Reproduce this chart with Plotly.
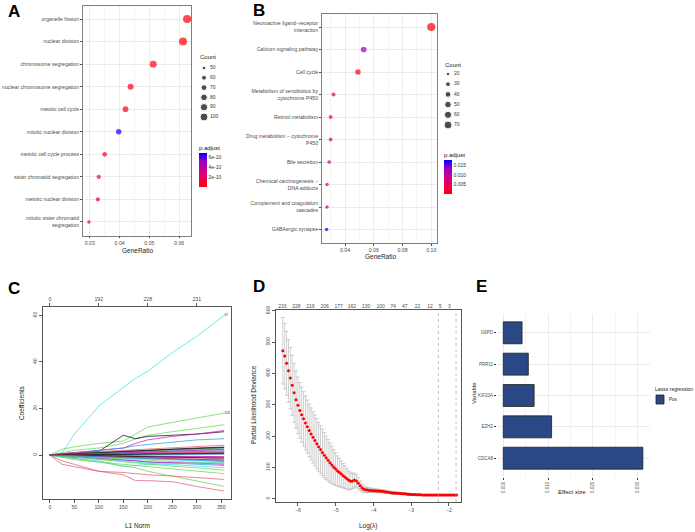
#!/usr/bin/env python3

#  Plotly Libraries
import plotly.graph_objects as go

W, H = 695, 532
FONT = 'Liberation Sans, Arial, sans-serif'

#  Panel A : GO enrichment
go_terms = [ 'organelle fission', 'nuclear division', 'chromosome segregation',
             'nuclear chromosome segregation', 'meiotic cell cycle',
             'mitotic nuclear division', 'meiotic cell cycle process',
             'sister chromatid segregation', 'meiotic nuclear division',
             'mitotic sister chromatid<br>segregation' ]
go_ratio = [ 0.0627, 0.0613, 0.0513, 0.0437, 0.0420, 0.0397, 0.0350, 0.0330, 0.0327, 0.0297 ]
go_count = [ 104, 101, 85, 72, 69, 66, 58, 55, 54, 49 ]
go_padj  = [ 1e-11, 1e-11, 3e-11, 5e-11, 5e-11, 6.7e-10, 6e-11, 1.3e-10, 8e-11, 1.8e-10 ]
go_count_breaks = [ 50, 60, 70, 80, 90, 100 ]

#  Panel B : KEGG enrichment
kegg_terms = [ 'Neuroactive ligand\u2212receptor<br>interaction', 'Calcium signaling pathway',
               'Cell cycle', 'Metabolism of xenobiotics by<br>cytochrome P450',
               'Retinol metabolism', 'Drug metabolism \u2212 cytochrome<br>P450',
               'Bile secretion', 'Chemical carcinogenesis \u2212<br>DNA adducts',
               'Complement and coagulation<br>cascades', 'GABAergic synapse' ]
kegg_ratio = [ 0.1000, 0.0530, 0.0490, 0.0320, 0.0300, 0.0300, 0.0290, 0.0275, 0.0275, 0.0272 ]
kegg_count = [ 75, 40, 37, 24, 22, 22, 21, 20, 20, 20 ]
kegg_padj  = [ 0.0003, 0.0135, 0.0008, 0.0015, 0.0012, 0.0012, 0.0085, 0.0040, 0.0105, 0.0176 ]
kegg_count_breaks = [ 20, 30, 40, 50, 60, 70 ]

#  Panel C : lasso coefficient paths
lasso_l1 = [ 0, 25, 50, 100, 150, 175, 200, 250, 300, 356 ]
lasso_coefs = [
    [ 0, 0.8, 9, 21, 29, 33, 36, 44, 51, 60 ],
    [ 0, 2.5, 3.5, 5, 6, 9, 12, 14, 16, 18 ],
    [ 0, 1, 2, 3, 5, 7, 8.5, 10, 11.5, 13 ],
    [ 0, 0.5, 1, 1.5, 8.5, 7, 8, 8.5, 9, 10 ],
    [ 0, 0.5, 1, 2, 3, 5, 6.5, 8, 9, 10.5 ],
    [ 0, 0.5, 1, 2, 3, 4, 4.5, 5.5, 6.5, 7 ],
    [ 0, 0.5, 1, 1.5, 2, 2.3, 2.7, 3.2, 3.7, 4.2 ],
    [ 0, 0.3, 0.7, 1.2, 1.6, 1.8, 2.1, 2.6, 3.0, 3.4 ],
    [ 0, 0.3, 0.6, 1, 1.3, 1.5, 1.8, 2.2, 2.6, 3 ],
    [ 0, 0.2, 0.5, 0.8, 1.1, 1.3, 1.5, 1.9, 2.2, 2.6 ],
    [ 0, 0.2, 0.4, 0.7, 0.9, 1.1, 1.3, 1.6, 1.9, 2.2 ],
    [ 0, 0.1, 0.3, 0.5, 0.7, 0.9, 1.0, 1.3, 1.5, 1.8 ],
    [ 0, 0.1, 0.2, 0.4, 0.6, 0.7, 0.8, 1.0, 1.2, 1.4 ],
    [ 0, 0.1, 0.1, 0.2, 0.3, 0.4, 0.5, 0.6, 0.8, 1.0 ],
    [ 0, 0, 0.1, 0.1, 0.2, 0.2, 0.3, 0.4, 0.5, 0.6 ],
    [ 0, 0, 0, 0, 0.1, 0.1, 0.1, 0.2, 0.2, 0.3 ],
    [ 0, -0.1, -0.2, -0.3, -0.4, -0.5, -0.6, -0.7, -0.8, -0.9 ],
    [ 0, -0.1, -0.3, -0.5, -0.7, -0.8, -1.0, -1.2, -1.4, -1.6 ],
    [ 0, -0.2, -0.4, -0.7, -1.0, -1.1, -1.3, -1.6, -1.9, -2.2 ],
    [ 0, -0.3, -0.6, -1.0, -1.4, -1.6, -1.8, -2.2, -2.6, -2.9 ],
    [ 0, -0.3, -0.7, -1.3, -1.8, -2.0, -2.3, -2.8, -3.2, -3.6 ],
    [ 0, -0.5, -1, -1.5, -2, -2.5, -3, -3.5, -4, -4.5 ],
    [ 0, -0.5, -1, -1.5, -2, -2.5, -3, -3.2, -3.5, -4 ],
    [ 0, -1, -1.5, -2.5, -5, -4.5, -4, -3.8, -3.5, -3.2 ],
    [ 0, -0.4, -0.8, -1.5, -2.5, -3, -3.5, -4.2, -4.8, -5.5 ],
    [ 0, -0.3, -0.8, -2, -3, -3.5, -4, -4.8, -5.5, -6.5 ],
    [ 0, -0.5, -1.5, -3, -4, -4.5, -5, -6, -7, -8 ],
    [ 0, -1, -2, -3, -4.5, -5.5, -7, -9, -11, -13.5 ],
    [ 0, -2.5, -4, -7, -7.5, -8, -8.5, -9, -9.8, -10.5 ],
    [ 0, -4, -5, -7, -8.5, -11, -11, -11.5, -13.5, -15.5 ],
    [ 0, 0.2, 0.4, 0.9, 1.3, 1.6, 1.9, 2.4, 2.8, 3.2 ],
    [ 0, 0.1, 0.2, 0.6, 0.9, 1.1, 1.3, 1.7, 2.0, 2.4 ],
    [ 0, 0.1, 0.2, 0.3, 0.5, 0.6, 0.7, 0.9, 1.1, 1.3 ],
    [ 0, 0, 0.1, 0.2, 0.3, 0.3, 0.4, 0.5, 0.6, 0.7 ],
    [ 0, 0, -0.1, -0.2, -0.3, -0.3, -0.4, -0.5, -0.6, -0.7 ],
    [ 0, -0.1, -0.2, -0.4, -0.6, -0.7, -0.8, -1.0, -1.2, -1.3 ],
    [ 0, -0.2, -0.3, -0.6, -0.9, -1.1, -1.3, -1.6, -1.9, -2.3 ],
    [ 0, -0.2, -0.5, -0.9, -1.2, -1.4, -1.6, -2.0, -2.4, -2.7 ],
]
lasso_color_idx = [ 4, 2, 2, 0, 5, 3, 1, 0, 2, 3, 4, 5, 1, 0, 2, 3,
                    5, 1, 0, 4, 2, 3, 5, 4, 4, 2, 2, 2, 1, 1,
                    0, 5, 1, 0, 5, 0, 1, 3 ]
lasso_end_labels = { 0: '47', 1: '126' }
lasso_top_ticks = [ 0, 100, 200, 300 ]
lasso_top_text  = [ '0', '192', '228', '231' ]

#  Panel D : cross-validation curve
cv_loglambda = [
    -6.40, -6.35, -6.30, -6.25, -6.20, -6.15, -6.10, -6.05, -6.00, -5.95,
    -5.90, -5.85, -5.80, -5.75, -5.70, -5.65, -5.60, -5.55, -5.50, -5.45,
    -5.40, -5.35, -5.30, -5.25, -5.20, -5.15, -5.10, -5.05, -5.00, -4.95,
    -4.90, -4.85, -4.80, -4.75, -4.70, -4.65, -4.60, -4.55, -4.50, -4.45,
    -4.40, -4.35, -4.30, -4.25, -4.20, -4.15, -4.10, -4.05, -4.00, -3.95,
    -3.90, -3.85, -3.80, -3.75, -3.70, -3.65, -3.60, -3.55, -3.50, -3.45,
    -3.40, -3.35, -3.30, -3.25, -3.20, -3.15, -3.10, -3.05, -3.00, -2.95,
    -2.90, -2.85, -2.80, -2.75, -2.70, -2.65, -2.60, -2.55, -2.50, -2.45,
    -2.40, -2.35, -2.30, -2.25, -2.20, -2.15, -2.10, -2.05, -2.00, -1.95,
    -1.90, -1.85, -1.80 ]
cv_deviance = [
    472, 455, 432, 408, 385, 362, 338, 316, 298, 282,
    268, 255, 242, 230, 218, 207, 196, 186, 176, 166,
    157, 148, 139, 131, 123, 115, 108, 101, 95, 89,
    84, 79, 74, 69, 64, 59, 56, 57, 60, 57,
    50, 42, 35, 31, 29, 28, 27, 27, 26, 26,
    25, 25, 24, 24, 23, 22, 21, 20, 19, 19,
    18, 18, 17, 17, 16, 16, 15, 15, 14, 14,
    14, 13, 13, 13, 12, 12, 12, 12, 12, 12,
    12, 12, 12, 12, 12, 12, 12, 12, 12, 12,
    12, 12, 12 ]
cv_se = [
    106, 104, 102, 100, 98, 96, 94, 92, 90, 89,
    88, 87, 86, 85, 84, 83, 82, 81, 80, 78,
    76, 74, 72, 69, 66, 63, 60, 56, 52, 48,
    45, 42, 39, 36, 33, 30, 27, 24, 22, 20,
    18, 15, 12, 10, 9, 8, 7, 7, 6, 6,
    6, 5, 5, 5, 5, 5, 4, 4, 4, 4,
    4, 4, 3, 3, 3, 3, 3, 3, 3, 3,
    3, 3, 2, 2, 2, 2, 2, 2, 2, 2,
    2, 2, 2, 2, 2, 2, 2, 2, 2, 2,
    2, 2, 2 ]
cv_nz_pos  = [ -6.41, -6.04, -5.67, -5.29, -4.92, -4.57, -4.19, -3.81, -3.48, -3.17, -2.83, -2.50, -2.23, -1.99 ]
cv_nz_text = [ '233', '228', '219', '206', '177', '162', '130', '100', '74', '47', '22', '12', '5', '3' ]
lambda_min_log = -2.28
lambda_1se_log = -1.81

#  Panel E : lasso effect sizes
genes   = [ 'CDCA8', 'EZH2', 'KIF20A', 'PRR11', 'G6PD' ]
effects = [ 0.0312, 0.0108, 0.0069, 0.0056, 0.0042 ]
effect_group = 'Pos'


def px_x( p ):
    return p / W

def px_y( p ):
    return 1 - p / H

def dot_size( counts, lo, hi, dmin=3.6, dmax=8.2 ):
    out = []
    for c in counts:
        f = ( c - lo ) / ( hi - lo )
        out.append( ( dmin ** 2 + ( dmax ** 2 - dmin ** 2 ) * f ) ** 0.5 )
    return out


padj_scale = [ [0, '#FF0000'], [0.25, '#EC0058'], [0.5, '#C8008F'],
               [0.75, '#9A00C8'], [1, '#0000FF'] ]
r_palette = [ '#000000', '#DF536B', '#61D04F', '#2297E6', '#28E2E5', '#CD0BBC' ]
bar_blue = '#2A4885'

fig = go.Figure()

#  ---- A
fig.add_trace( go.Scatter( x=go_ratio, y=go_terms, mode='markers',
                           marker=dict( size=dot_size( go_count, 49, 104 ),
                                        color=go_padj, colorscale=padj_scale,
                                        cmin=0, cmax=6.8e-10, line=dict( width=0 ),
                                        colorbar=dict( x=px_x( 199 ), xanchor='left',
                                                       y=px_y( 164.5 ), yanchor='middle',
                                                       len=45, lenmode='pixels', thickness=8,
                                                       xpad=0, ypad=0, outlinewidth=0,
                                                       tickvals=[2e-10, 4e-10, 6e-10],
                                                       ticktext=['2e-10', '4e-10', '6e-10'],
                                                       ticks='', tickfont=dict( size=5, color='#333' ),
                                                       title=dict( text='p.adjust', side='top',
                                                                   font=dict( size=6, color='#111' ) ) ) ),
                           xaxis='x', yaxis='y', showlegend=False ) )

#  ---- B
fig.add_trace( go.Scatter( x=kegg_ratio, y=kegg_terms, mode='markers',
                           marker=dict( size=dot_size( kegg_count, 20, 75 ),
                                        color=kegg_padj, colorscale=padj_scale,
                                        cmin=0, cmax=0.0178, line=dict( width=0 ),
                                        colorbar=dict( x=px_x( 444 ), xanchor='left',
                                                       y=px_y( 171.5 ), yanchor='middle',
                                                       len=45, lenmode='pixels', thickness=8,
                                                       xpad=0, ypad=0, outlinewidth=0,
                                                       tickvals=[0.005, 0.010, 0.015],
                                                       ticktext=['0.005', '0.010', '0.015'],
                                                       ticks='', tickfont=dict( size=5, color='#333' ),
                                                       title=dict( text='p.adjust', side='top',
                                                                   font=dict( size=6, color='#111' ) ) ) ),
                           xaxis='x2', yaxis='y2', showlegend=False ) )

#  Count size keys (A: x8/y8, B: x9/y9)
for breaks, lo, hi, xa, ya in [ ( go_count_breaks, 49, 104, 'x8', 'y8' ),
                                ( kegg_count_breaks, 20, 75, 'x9', 'y9' ) ]:
    fig.add_trace( go.Scatter( x=[9] * len( breaks ), y=list( range( len( breaks ) ) ),
                               mode='markers',
                               marker=dict( size=dot_size( breaks, lo, hi ), color='black' ),
                               xaxis=xa, yaxis=ya, showlegend=False, hoverinfo='skip' ) )
    fig.add_trace( go.Scatter( x=[15] * len( breaks ), y=list( range( len( breaks ) ) ),
                               mode='text', text=[ str( b ) for b in breaks ],
                               textposition='middle right',
                               textfont=dict( size=5, color='#333' ),
                               xaxis=xa, yaxis=ya, showlegend=False, hoverinfo='skip' ) )

#  ---- C
for i, coefs in enumerate( lasso_coefs ):
    fig.add_trace( go.Scatter( x=lasso_l1, y=coefs, mode='lines',
                               line=dict( color=r_palette[ lasso_color_idx[i] ], width=0.7 ),
                               xaxis='x3', yaxis='y3', showlegend=False ) )
for i in lasso_end_labels:
    fig.add_trace( go.Scatter( x=[ lasso_l1[-1] ], y=[ lasso_coefs[i][-1] ], mode='text',
                               text=[ lasso_end_labels[i] ], textposition='middle right',
                               textfont=dict( size=3.5, color='#333' ),
                               xaxis='x3', yaxis='y3', showlegend=False ) )
#  dummy trace so the top axis is drawn
fig.add_trace( go.Scatter( x=[ lasso_l1[0] ], y=[ 0 ], mode='markers', marker=dict( opacity=0 ),
                           xaxis='x4', yaxis='y3', showlegend=False, hoverinfo='skip' ) )

#  ---- D
fig.add_trace( go.Scatter( x=cv_loglambda, y=cv_deviance, mode='markers',
                           marker=dict( color='#FF0000', size=3 ),
                           error_y=dict( type='data', array=cv_se, color='#B0B0B0',
                                         thickness=0.6, width=2 ),
                           xaxis='x5', yaxis='y5', showlegend=False ) )
fig.add_trace( go.Scatter( x=[ cv_loglambda[0] ], y=[ 0 ], mode='markers', marker=dict( opacity=0 ),
                           xaxis='x6', yaxis='y5', showlegend=False, hoverinfo='skip' ) )
for xv in [ lambda_min_log, lambda_1se_log ]:
    fig.add_shape( type='line', x0=xv, x1=xv, y0=0, y1=1, xref='x5', yref='y5 domain',
                   line=dict( color='#999', width=0.6, dash='dot' ) )

#  ---- E
fig.add_trace( go.Bar( x=effects, y=genes, orientation='h', width=0.7, name=effect_group,
                       marker=dict( color=bar_blue, line=dict( color='#1E1E1E', width=0.8 ) ),
                       xaxis='x7', yaxis='y7', showlegend=False ) )

#  legend key for E
fig.add_shape( type='rect', xref='paper', yref='paper',
               x0=px_x( 656 ), x1=px_x( 664 ), y0=px_y( 404 ), y1=px_y( 395 ),
               fillcolor=bar_blue, line=dict( color='#1E1E1E', width=0.8 ) )

tick_font = dict( size=5.2, color='#4D4D4D' )
bw_grid = '#EBEBEB'

fig.update_layout(
    width=W, height=H, margin=dict( l=0, r=0, t=0, b=0 ),
    template='none', paper_bgcolor='white', plot_bgcolor='white',
    font=dict( family=FONT, color='#222' ),
    xaxis=dict( domain=[ px_x( 83 ), px_x( 191 ) ], anchor='y', range=[ 0.0277, 0.064 ],
                tick0=0.03, dtick=0.01, tickformat='.2f', tickfont=tick_font,
                showgrid=True, gridcolor=bw_grid, gridwidth=0.6,
                minor=dict( dtick=0.005, tick0=0.025, showgrid=True, gridcolor='#F4F4F4', gridwidth=0.4 ),
                ticks='outside', ticklen=2, tickcolor='#4D4D4D', tickwidth=0.5,
                showline=True, mirror=True, linecolor='#808080', linewidth=0.8, zeroline=False ),
    yaxis=dict( domain=[ px_y( 235.5 ), px_y( 5.5 ) ], anchor='x', type='category',
                categoryorder='array', categoryarray=go_terms, range=[ 9.6, -0.6 ],
                tickfont=tick_font, showgrid=True, gridcolor=bw_grid, gridwidth=0.6,
                ticks='outside', ticklen=2, tickcolor='#4D4D4D', tickwidth=0.5,
                showline=True, mirror=True, linecolor='#808080', linewidth=0.8, zeroline=False ),
    xaxis2=dict( domain=[ px_x( 322 ), px_x( 437 ) ], anchor='y2', range=[ 0.024, 0.104 ],
                 tick0=0.04, dtick=0.02, tickformat='.2f', tickfont=tick_font,
                 showgrid=True, gridcolor=bw_grid, gridwidth=0.6,
                 minor=dict( dtick=0.01, tick0=0.03, showgrid=True, gridcolor='#F4F4F4', gridwidth=0.4 ),
                 ticks='outside', ticklen=2, tickcolor='#4D4D4D', tickwidth=0.5,
                 showline=True, mirror=True, linecolor='#808080', linewidth=0.8, zeroline=False ),
    yaxis2=dict( domain=[ px_y( 243 ), px_y( 13.5 ) ], anchor='x2', type='category',
                 categoryorder='array', categoryarray=kegg_terms, range=[ 9.6, -0.6 ],
                 tickfont=tick_font, showgrid=True, gridcolor=bw_grid, gridwidth=0.6,
                 ticks='outside', ticklen=2, tickcolor='#4D4D4D', tickwidth=0.5,
                 showline=True, mirror=True, linecolor='#808080', linewidth=0.8, zeroline=False ),
    xaxis3=dict( domain=[ px_x( 43 ), px_x( 231 ) ], anchor='y3', range=[ -14, 370 ],
                 tick0=0, dtick=50, tickfont=tick_font, showgrid=False,
                 ticks='outside', ticklen=3, tickcolor='#555', tickwidth=0.6,
                 showline=True, mirror=True, linecolor='#555', linewidth=0.8, zeroline=False ),
    xaxis4=dict( overlaying='x3', anchor='y3', side='top', range=[ -14, 370 ],
                 tickvals=lasso_top_ticks, ticktext=lasso_top_text, tickfont=tick_font,
                 showgrid=False, ticks='outside', ticklen=3, tickcolor='#555', tickwidth=0.6,
                 showline=False, zeroline=False ),
    yaxis3=dict( domain=[ px_y( 499 ), px_y( 307 ) ], anchor='x3', range=[ -18.9, 63.6 ],
                 tickvals=[ 0, 20, 40, 60 ], tickangle=-90, tickfont=tick_font, showgrid=False,
                 ticks='outside', ticklen=3, tickcolor='#555', tickwidth=0.6,
                 showline=True, mirror=True, linecolor='#555', linewidth=0.8, zeroline=False ),
    xaxis5=dict( domain=[ px_x( 276 ), px_x( 461 ) ], anchor='y5', range=[ -6.58, -1.68 ],
                 tickvals=[ -6, -5, -4, -3, -2 ], tickfont=tick_font, showgrid=False,
                 ticks='outside', ticklen=3, tickcolor='#555', tickwidth=0.6,
                 showline=True, mirror=True, linecolor='#555', linewidth=0.8, zeroline=False ),
    xaxis6=dict( overlaying='x5', anchor='y5', side='top', range=[ -6.58, -1.68 ],
                 tickvals=cv_nz_pos, ticktext=cv_nz_text, tickfont=dict( size=5, color='#4D4D4D' ),
                 showgrid=False, ticks='', showline=False, zeroline=False ),
    yaxis5=dict( domain=[ px_y( 502 ), px_y( 310 ) ], anchor='x5', range=[ -10, 602 ],
                 tickvals=[ 0, 100, 200, 300, 400, 500, 600 ], tickangle=-90, tickfont=tick_font,
                 showgrid=False, ticks='outside', ticklen=3, tickcolor='#555', tickwidth=0.6,
                 showline=True, mirror=True, linecolor='#555', linewidth=0.8, zeroline=False ),
    xaxis7=dict( domain=[ px_x( 497 ), px_x( 650 ) ], anchor='y7', range=[ -0.0014, 0.0328 ],
                 tickvals=[ 0, 0.01, 0.02, 0.03 ], ticktext=[ '0.000', '0.010', '0.020', '0.030' ],
                 tickangle=-90, tickfont=dict( size=4.5, color='#4D4D4D' ),
                 showgrid=True, gridcolor=bw_grid, gridwidth=0.6,
                 minor=dict( tickvals=[ 0.005, 0.015, 0.025 ], showgrid=True, gridcolor='#F4F4F4' ),
                 ticks='outside', ticklen=2, tickcolor='#333', tickwidth=0.6,
                 showline=False, zeroline=False ),
    yaxis7=dict( domain=[ px_y( 477 ), px_y( 314 ) ], anchor='x7', type='category',
                 categoryorder='array', categoryarray=genes, range=[ -0.6, 4.6 ],
                 tickfont=dict( size=4.5, color='#4D4D4D' ), showgrid=True, gridcolor=bw_grid,
                 gridwidth=0.6, ticks='outside', ticklen=2, tickcolor='#333', tickwidth=0.6,
                 showline=False, zeroline=False ),
    xaxis8=dict( domain=[ px_x( 195 ), px_x( 225 ) ], anchor='y8', range=[ 0, 30 ], visible=False ),
    yaxis8=dict( domain=[ px_y( 121.9 ), px_y( 63.1 ) ], anchor='x8', range=[ 5.5, -0.5 ], visible=False ),
    xaxis9=dict( domain=[ px_x( 439 ), px_x( 469 ) ], anchor='y9', range=[ 0, 30 ], visible=False ),
    yaxis9=dict( domain=[ px_y( 130.1 ), px_y( 68.9 ) ], anchor='x9', range=[ 5.5, -0.5 ], visible=False ),
)

annots = [
    #  panel letters
    ( 'A', 14, 12, 17, 0, True, 'center' ), ( 'B', 259, 10, 17, 0, True, 'center' ),
    ( 'C', 14, 288, 17, 0, True, 'center' ), ( 'D', 259, 286, 17, 0, True, 'center' ),
    ( 'E', 482, 286, 17, 0, True, 'center' ),
    #  axis titles
    ( 'GeneRatio', 137, 250, 6.5, 0, False, 'center' ), ( 'GeneRatio', 380, 257, 6.5, 0, False, 'center' ),
    ( 'Count', 198, 57, 6, 0, False, 'left' ), ( 'Count', 443, 65, 6, 0, False, 'left' ),
    ( 'L1 Norm', 137, 525, 6.5, 0, False, 'center' ), ( 'Coefficients', 21, 403, 6.5, -90, False, 'center' ),
    ( 'Log(\u03bb)', 368, 526, 6.5, 0, False, 'center' ),
    ( 'Partial Likelihood Deviance', 253, 405, 6.5, -90, False, 'center' ),
    ( 'Effect size', 572, 492, 6, 0, False, 'center' ), ( 'Variable', 474, 393, 6, -90, False, 'center' ),
    ( 'Lasso regression', 653, 389, 5, 0, False, 'left' ),
    ( effect_group, 667, 399.5, 4.5, 0, False, 'left' ),
]
for text, x, y, size, angle, bold, anchor in annots:
    fig.add_annotation( text=( '<b>%s</b>' % text ) if bold else text,
                        x=px_x( x ), y=px_y( y ), xref='paper', yref='paper',
                        xanchor=anchor, yanchor='middle', showarrow=False, textangle=angle,
                        font=dict( size=size, color='black' if bold else '#222', family=FONT ) )

#  drop the default page margin so the figure sits at the window corner
fig.write_html( 'out.html', config={ 'displayModeBar': False },
                post_script="document.body.style.margin='0';" )
